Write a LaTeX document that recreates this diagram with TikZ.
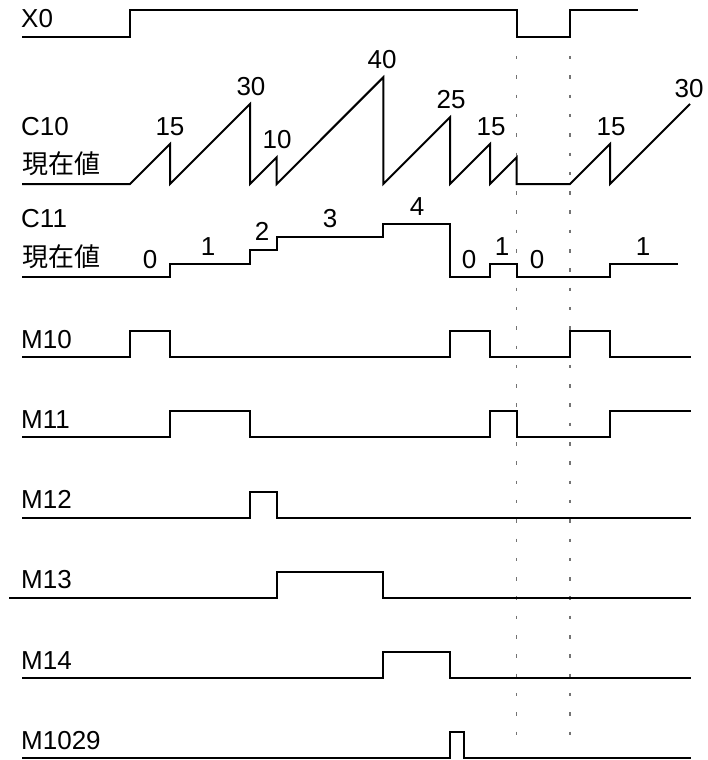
\documentclass[tikz,border=0pt]{standalone}
\usepackage{fontspec}
\setmainfont{Liberation Sans}
\newfontfamily\cjk{Noto Sans CJK JP}
\begin{document}
\begin{tikzpicture}[
  x=1pt, y=-1pt,
  wave/.style={line width=2pt, line join=miter},
  guide/.style={black!55, line width=1.3pt, dash pattern=on 3.5pt off 15.8pt},
  siglabel/.style={anchor=base west, inner sep=0pt, font=\fontsize{26}{30}\selectfont},
  cjklabel/.style={anchor=base west, inner sep=0pt, font=\cjk\fontsize{26}{30}\selectfont},
  cntval/.style={anchor=base, inner sep=0pt, font=\fontsize{26}{30}\selectfont}
]

\path[use as bounding box] (0,0) rectangle (707,760);

% Guide lines at the X0 falling and rising edges.
\draw[guide] (516.7,56) -- (516.7,745);
\draw[guide] (570,56) -- (570,745);

% Signal names.
\node[siglabel] (lX0)   at (21,28)  {X0};
\node[siglabel] (lC10)  at (21,135) {C10};
\node[cjklabel] (lC10v) at (22,173) {現在値};
\node[siglabel] (lC11)  at (21,227) {C11};
\node[cjklabel] (lC11v) at (22,266) {現在値};
\foreach \name/\yb in {M10/348, M11/428, M12/508, M13/588, M14/669, M1029/749} {
  \node[siglabel] (l\name) at (21,\yb) {\name};
}

% X0 input.
\draw[wave] (22,37) -- (130,37) -- (130,10) -- (516.7,10) -- (516.7,37)
  -- (570,37) -- (570,10) -- (638,10);

% C10 present value (sawtooth).
\draw[wave] (22,184) -- (130,184) -- (170,144) -- (170,184) -- (250,104)
  -- (250,184) -- (276.7,157.3) -- (276.7,184) -- (383.3,77.3) -- (383.3,184)
  -- (450,117.3) -- (450,184) -- (490,144) -- (490,184) -- (516.7,157.3)
  -- (516.7,184) -- (570,184) -- (610,144) -- (610,184) -- (690,104);
\foreach \xv/\yv/\val in {170/135/15, 251/95/30, 277/148/10, 382/68/40,
                          451/108/25, 491/135/15, 611/135/15, 689/97/30} {
  \node[cntval] (c10n\val x\xv) at (\xv,\yv) {\val};
}

% C11 present value (staircase).
\draw[wave] (22,277) -- (170,277) -- (170,263.7) -- (250,263.7) -- (250,250.3)
  -- (276.7,250.3) -- (276.7,237) -- (383.3,237) -- (383.3,223.7)
  -- (450,223.7) -- (450,277) -- (490,277) -- (490,263.7) -- (516.7,263.7)
  -- (516.7,277) -- (610,277) -- (610,263.7) -- (678,263.7);
\foreach \xv/\yv/\val in {150/268/0, 208/255/1, 262/240/2, 330/227/3, 417/215/4,
                          469/268/0, 502/255/1, 537/268/0, 643/255/1} {
  \node[cntval] (c11n\val x\xv) at (\xv,\yv) {\val};
}

% M10.
\draw[wave] (22,357) -- (130,357) -- (130,331) -- (170,331) -- (170,357)
  -- (450,357) -- (450,331) -- (490,331) -- (490,357) -- (570,357)
  -- (570,331) -- (610,331) -- (610,357) -- (691,357);

% M11.
\draw[wave] (22,437) -- (170,437) -- (170,411) -- (250,411) -- (250,437)
  -- (490,437) -- (490,411) -- (516.7,411) -- (516.7,437) -- (610,437)
  -- (610,411) -- (691,411);

% M12 .. M1029: single pulses.
\foreach \xs/\yb/\ta/\tb in {22/518/250/276.7, 9/598/276.7/383.3,
                             22/678/383.3/450, 22/758/450/464} {
  \draw[wave] (\xs,\yb) -- (\ta,\yb) -- (\ta,\yb-26) -- (\tb,\yb-26)
    -- (\tb,\yb) -- (691,\yb);
}

\end{tikzpicture}
\end{document}
